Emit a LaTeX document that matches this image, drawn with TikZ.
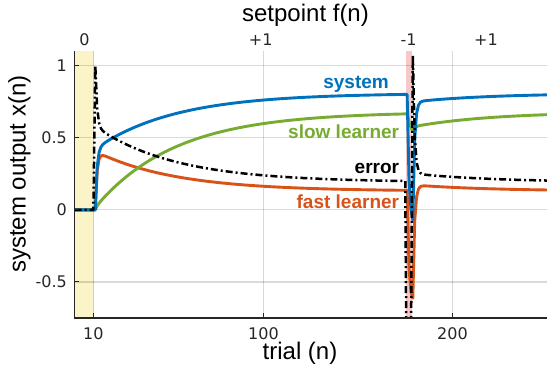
\documentclass[tikz,border=0pt]{standalone}
\usepackage{fontspec}
\setmainfont{Liberation Sans}
\newfontfamily\tickfont{DejaVu Sans}
\definecolor{mblue}{RGB}{0,114,189}
\definecolor{morange}{RGB}{217,83,25}
\definecolor{mgreen}{RGB}{119,172,48}
\definecolor{axgray}{RGB}{38,38,38}
\definecolor{bandyellow}{RGB}{251,244,200}
\definecolor{bandred}{RGB}{248,200,200}
\begin{document}
% two-state learning model, computed trial by trial
\def\Af{0.6}\def\Bf{0.27}\def\As{0.9924}\def\Bs{0.027}
\gdef\xf{0}\gdef\xs{0}
\xdef\pF{(74.5,209.8)}\xdef\pS{(74.5,209.8)}\xdef\pX{(74.5,209.8)}\xdef\pE{(74.5,209.8)}
\foreach \n in {1,...,250}{%
  \ifnum\n<11 \gdef\fset{0}\else
    \ifnum\n>175 \ifnum\n<179 \gdef\fset{-1}\else\gdef\fset{1}\fi
    \else\gdef\fset{1}\fi
  \fi
  \pgfmathsetmacro\sysv{\xf+\xs}%
  \pgfmathsetmacro\err{\fset-(\sysv)}%
  \pgfmathsetmacro\px{74.5+1.89*\n}%
  \pgfmathsetmacro\yF{209.8-144.2*(\xf)}%
  \pgfmathsetmacro\yS{209.8-144.2*(\xs)}%
  \pgfmathsetmacro\yX{209.8-144.2*(\sysv)}%
  \pgfmathsetmacro\yE{209.8-144.2*(\err)}%
  \xdef\pF{\pF -- (\px,\yF)}%
  \xdef\pS{\pS -- (\px,\yS)}%
  \xdef\pX{\pX -- (\px,\yX)}%
  \xdef\pE{\pE -- (\px,\yE)}%
  \pgfmathsetmacro\nf{\Af*(\xf)+\Bf*(\err)}%
  \pgfmathsetmacro\ns{\As*(\xs)+\Bs*(\err)}%
  \xdef\xf{\nf}\xdef\xs{\ns}%
}
\begin{tikzpicture}[x=1pt,y=-1pt,
  ticklab/.style={font=\tickfont\fontsize{16}{16}\selectfont, text=axgray, inner sep=0pt},
  axlab/.style={font=\fontsize{24}{24}\selectfont, text=black, inner sep=0pt},
  curvelab/.style={font=\bfseries\fontsize{19}{19}\selectfont, inner sep=0pt, anchor=east},
  gridline/.style={draw=black, opacity=0.15, line width=1.2pt},
  curve/.style={line width=2.9pt, line join=round, line cap=round},
  errline/.style={line width=2.5pt, line join=round, dash pattern=on 7pt off 3pt on 2pt off 3pt},
  axline/.style={draw=axgray, line width=1.4pt},
  tickmark/.style={draw=axgray, line width=1.1pt}]
\useasboundingbox (0,0) rectangle (547,372);
\fill[white] (0,0) rectangle (547,372);
% setpoint bands
\fill[bandyellow] (74.5,51.2) rectangle (94.3,318);
\fill[bandred] (406.2,51.2) rectangle (411.9,318);
% grid
\foreach \gx in {93.4,263.5,452.5}{\draw[gridline] (\gx,51.2) -- (\gx,318);}
\foreach \gy in {65.6,137.7,209.8,281.9}{\draw[gridline] (74.3,\gy) -- (547,\gy);}
% curves
\begin{scope}
\clip (74.3,51.2) rectangle (547,318);
\edef\cmdF{\noexpand\draw[curve, morange] \pF;}\cmdF
\edef\cmdS{\noexpand\draw[curve, mgreen] \pS;}\cmdS
\edef\cmdX{\noexpand\draw[curve, mblue] \pX;}\cmdX
\edef\cmdE{\noexpand\draw[errline, black] \pE;}\cmdE
\end{scope}
% axes
\draw[axline] (74.3,51.2) -- (74.3,318) -- (547,318);
\foreach \gx in {93.4,263.5,452.5}{\draw[tickmark] (\gx,318) -- (\gx,313);}
\foreach \gy in {65.6,137.7,209.8,281.9}{\draw[tickmark] (74.3,\gy) -- (79.3,\gy);}
% tick labels
\node[ticklab] (b10) at (93.4,334) {10};
\node[ticklab] (b100) at (263.5,334) {100};
\node[ticklab] (b200) at (452.5,334) {200};
\node[ticklab, anchor=east] (l1) at (67,65.6) {1};
\node[ticklab, anchor=east] (l05) at (67,137.7) {0.5};
\node[ticklab, anchor=east] (l0) at (67,209.8) {0};
\node[ticklab, anchor=east] (lm05) at (67,281.9) {-0.5};
\node[ticklab] (t0) at (84.4,40) {0};
\node[ticklab] (tp1) at (260.7,40) {+1};
\node[ticklab] (tm1) at (408.5,40) {-1};
\node[ticklab] (tp2) at (486,40) {+1};
% axis titles
\node[axlab] (title) at (305.5,15) {setpoint f(n)};
\node[axlab] (xlab) at (300,353.5) {trial (n)};
\node[axlab, rotate=90] (ylab) at (19.5,174) {system output x(n)};
% curve labels
\node[curvelab, text=mblue] (lsys) at (389,84) {system};
\node[curvelab, text=mgreen] (lslow) at (399.3,131.7) {slow learner};
\node[curvelab, text=black] (lerr) at (399.3,168.3) {error};
\node[curvelab, text=morange] (lfast) at (399.3,201.7) {fast learner};
\end{tikzpicture}
\end{document}
